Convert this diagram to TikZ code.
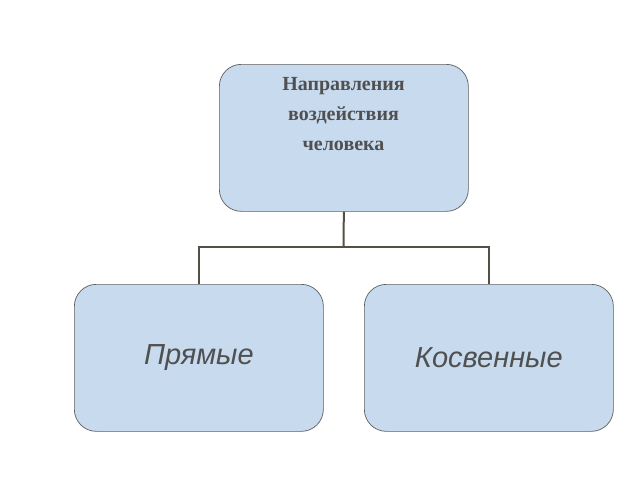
\documentclass[tikz,border=0pt]{standalone}
\usepackage{fontspec}
\setmainfont{Liberation Serif}
\setsansfont{Liberation Sans}
\usetikzlibrary{positioning}
\definecolor{boxfill}{RGB}{200,218,238}
\definecolor{boxline}{RGB}{95,95,95}
\definecolor{txt}{RGB}{80,80,80}
\definecolor{wire}{RGB}{85,80,70}
\begin{document}
\begin{tikzpicture}[
  x=1pt, y=-1pt,
  box/.style={draw=boxline, fill=boxfill, rounded corners=22pt, minimum width=249pt, minimum height=147pt, text=txt, line width=0.7pt},
  wire/.style={draw=wire, line width=2pt}
]
\useasboundingbox[fill=white] (0,0) rectangle (640,480);

% top box
\node[box, anchor=north west] (top) at (219,64) {};
\node[anchor=north, align=center, text=txt, font=\fontsize{20}{30}\selectfont\bfseries] (toptext) at (343.5,74)
{Направления\\воздействия\\человека};

% bottom boxes
\node[box, anchor=north west, font=\sffamily\itshape\fontsize{29}{34}\selectfont] (direct) at (74,284) {Прямые};
\node[box, anchor=north west, font=\sffamily\itshape\fontsize{29}{34}\selectfont] (indirect) at (364,284) {Косвенные};

% connectors
\coordinate (fork) at (343.5,247);
\draw[wire] (top.south) -- (fork);
\draw[wire] (fork) -| (direct.north);
\draw[wire] (fork) -| (indirect.north);

\end{tikzpicture}
\end{document}
